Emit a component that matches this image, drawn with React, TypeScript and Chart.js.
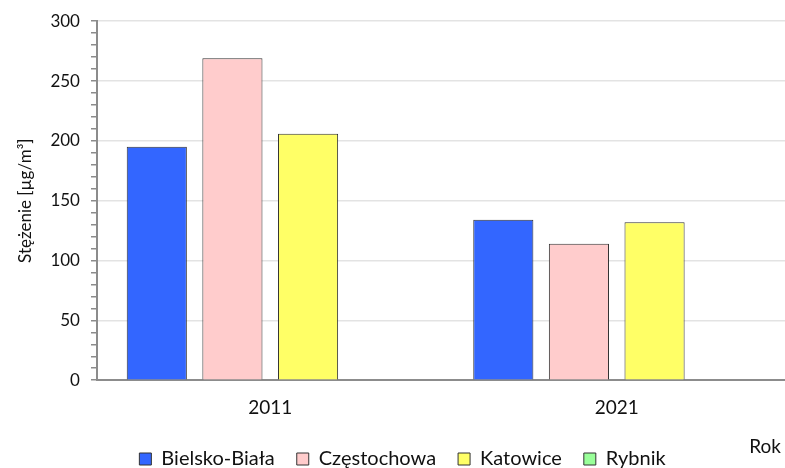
import React, { useEffect, useRef } from "react";
import { Chart, registerables } from "chart.js";

Chart.register(...registerables);

const categories = ["2011", "2021"];
const seriesNames = ["Bielsko-Biała", "Częstochowa", "Katowice", "Rybnik"];
const bielsko = [195, 134];
const czestochowa = [269, 114];
const katowice = [206, 132];
const rybnik: (number | null)[] = [null, null];
const seriesColors = ["#3366FF", "#FFCCCC", "#FFFF66", "#99FF99"];
const yTitle = "Stężenie [µg/m³]";
const xTitle = "Rok";

const FONT = "Lato, 'DejaVu Sans', sans-serif";

const rokPlugin = {
  id: "rokLabel",
  afterDraw(chart: any) {
    const ctx = chart.ctx;
    ctx.save();
    ctx.font = `19px ${FONT}`;
    ctx.fillStyle = "#111111";
    ctx.textAlign = "right";
    ctx.textBaseline = "middle";
    ctx.fillText(xTitle, 781, 447);
    ctx.restore();
  },
};

export default function App() {
  const ref = useRef<HTMLCanvasElement | null>(null);
  useEffect(() => {
    if (!ref.current) return;
    const data = [bielsko, czestochowa, katowice, rybnik];
    const chart = new Chart(ref.current, {
      type: "bar",
      data: {
        labels: categories,
        datasets: seriesNames.map((name, i) => ({
          label: name,
          data: data[i],
          backgroundColor: seriesColors[i],
          borderColor: "#333333",
          borderWidth: 1,
          categoryPercentage: 0.873,
          barPercentage: 0.795,
        })),
      },
      options: {
        animation: false,
        responsive: false,
        maintainAspectRatio: false,
        layout: { padding: { top: 11, left: 15, right: 0, bottom: 0 } },
        plugins: {
          legend: {
            position: "bottom",
            maxHeight: 41,
            labels: {
              font: { family: FONT, size: 20 },
              color: "#111111",
              boxWidth: 12,
              boxHeight: 12,
              padding: 22,
            },
          },
          tooltip: { enabled: false },
        },
        scales: {
          x: {
            grid: { display: false },
            border: { display: true, color: "#8c8c8c", width: 2 },
            ticks: { font: { family: FONT, size: 19 }, color: "#111111", padding: 8 },
          },
          y: {
            min: 0,
            max: 300,
            border: { display: true, color: "#8c8c8c", width: 2 },
            grid: {
              color: (c: any) => (c.tick && c.tick.value % 50 === 0 ? "#e3e3e3" : "rgba(0,0,0,0)"),
              tickColor: "#8c8c8c",
              tickLength: 6,
              lineWidth: 1.5,
            },
            ticks: {
              stepSize: 10,
              autoSkip: false,
              font: { family: FONT, size: 17 },
              color: "#111111",
              padding: 11,
              callback: (v: any) => (Number(v) % 50 === 0 ? String(v) : ""),
            },
            title: {
              display: true,
              text: yTitle,
              font: { family: FONT, size: 17 },
              color: "#111111",
              padding: { top: 0, bottom: 4 },
            },
          },
        },
      },
      plugins: [rokPlugin],
    });
    return () => chart.destroy();
  }, []);
  return (
    <div style={{ position: "fixed", left: 0, top: 0, width: 785, height: 468, overflow: "hidden", background: "#fff" }}>
      <canvas ref={ref} width={790} height={468} style={{ display: "block", width: 790, height: 468 }} />
    </div>
  );
}
